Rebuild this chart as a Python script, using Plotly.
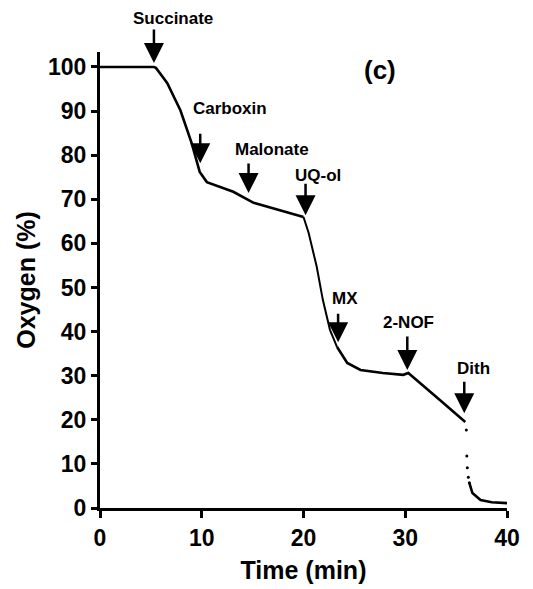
import plotly.graph_objects as go

# Oxygen trace, solid portions
time_main = [0, 5.3, 5.5, 6.6, 7.9, 9.0, 9.8, 10.5, 13.1, 14.4, 15.1, 20.0]
oxy_main = [100, 100, 99.8, 96.4, 90.2, 82.8, 76.2, 73.9, 71.7, 70.1, 69.2, 66.0]

# Fast phase after UQ-ol (sparser sampling)
time_fast = [20.0, 20.5, 21.3, 21.9, 22.6, 23.3]
oxy_fast = [66.0, 62.4, 54.7, 47.2, 40.4, 36.5]

time_late = [23.3, 24.3, 25.6, 27.8, 29.8, 30.3, 33.4, 35.9]
oxy_late = [36.5, 32.9, 31.3, 30.6, 30.2, 30.6, 24.5, 19.5]

# Dithionite drop: isolated samples, then the tail
time_dith = [36.0, 36.05, 36.1, 36.2, 36.3]
oxy_dith = [17.7, 11.8, 9.1, 7.0, 5.7]
time_tail = [36.3, 36.4, 36.6, 37.4, 38.5, 40.0]
oxy_tail = [5.7, 5.0, 3.4, 1.8, 1.3, 1.1]

# Additions: label, time, arrow-tip level, label position (time, level)
add_labels = ["Succinate", "Carboxin", "Malonate", "UQ-ol", "MX", "2-NOF", "Dith"]
add_times = [5.3, 9.85, 14.6, 20.2, 23.4, 30.2, 35.8]
add_tips = [100.9, 78.2, 71.4, 66.4, 37.6, 31.3, 21.5]
arrow_len = [35, 31, 31, 33, 30, 35, 33]
label_t = [7.2, 12.8, 16.9, 21.4, 24.1, 30.3, 36.7]
label_y = [111.0, 90.7, 81.2, 75.5, 47.6, 42.0, 31.7]

x_ticks = [0, 10, 20, 30, 40]
y_ticks = [0, 10, 20, 30, 40, 50, 60, 70, 80, 90, 100]
Y_MAX = 103.4

FONT = "Liberation Sans"

fig = go.Figure()
for tx, ty, w in [(time_main, oxy_main, 2.6), (time_fast, oxy_fast, 2.0),
                  (time_late, oxy_late, 2.6), (time_tail, oxy_tail, 2.6)]:
    fig.add_trace(go.Scatter(x=tx, y=ty, mode="lines",
                             line=dict(color="black", width=w), showlegend=False))
fig.add_trace(go.Scatter(x=time_dith, y=oxy_dith, mode="markers",
                         marker=dict(color="black", size=3), showlegend=False))

for lab, t, tip, ln, lt, ly in zip(add_labels, add_times, add_tips, arrow_len, label_t, label_y):
    fig.add_annotation(x=t, y=tip, ax=0, ay=-ln, text="", showarrow=True,
                       arrowhead=2, arrowsize=1.6, arrowwidth=2.5, arrowcolor="black",
                       standoff=0)
    # labels above the plotting range are placed in paper units so they stay visible
    if ly > Y_MAX:
        fig.add_annotation(x=lt, y=ly / Y_MAX, yref="paper", yanchor="middle",
                           text=lab, showarrow=False,
                           font=dict(family=FONT, size=17, color="black", weight="bold"))
    else:
        fig.add_annotation(x=lt, y=ly, yanchor="middle", text=lab, showarrow=False,
                           font=dict(family=FONT, size=17, color="black", weight="bold"))

fig.add_annotation(x=27.5, y=99.3, text="(c)", showarrow=False,
                   font=dict(family=FONT, size=26, color="black", weight="bold"))

axis_common = dict(showline=True, linecolor="black", linewidth=3, ticks="outside",
                   tickcolor="black", tickwidth=2.5, showgrid=False, zeroline=False,
                   tickfont=dict(family=FONT, size=23, color="black", weight="bold"),
                   mirror=False, automargin=False)

fig.update_xaxes(range=[0, 40], tickvals=x_ticks, ticklen=7,
                 title=dict(text="Time (min)", standoff=12,
                            font=dict(family=FONT, size=25, color="black", weight="bold")),
                 **axis_common)
fig.update_yaxes(range=[0, Y_MAX], tickvals=y_ticks, ticklen=6,
                 title=dict(text="Oxygen (%)", standoff=6,
                            font=dict(family=FONT, size=25, color="black", weight="bold")),
                 **axis_common)

fig.update_layout(width=533, height=589, margin=dict(l=100, r=26, t=52, b=81),
                  plot_bgcolor="white", paper_bgcolor="white")

fig.write_html("out.html")
